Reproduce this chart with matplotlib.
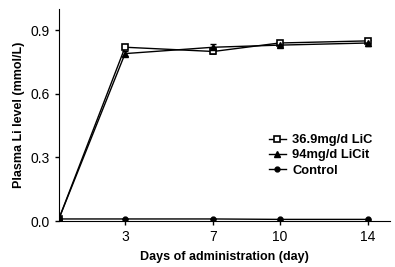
import numpy as np
import matplotlib.pyplot as plt
from matplotlib.lines import Line2D

plt.rcParams['font.family'] = ['Liberation Sans', 'DejaVu Sans']

days = [0, 3, 7, 10, 14]
lic = [0.01, 0.82, 0.80, 0.84, 0.85]
lic_err = [0.003, 0.01, 0.012, 0.008, 0.01]
licit = [0.01, 0.79, 0.82, 0.83, 0.84]
licit_err = [0.003, 0.01, 0.015, 0.01, 0.012]
control = [0.01, 0.01, 0.01, 0.008, 0.008]
control_err = [0.002, 0.002, 0.002, 0.002, 0.002]
labels = ['36.9mg/d LiC', '94mg/d LiCit', 'Control']

fig = plt.figure(figsize=(3.95, 2.67), dpi=100)
ax = fig.add_axes([0.149, 0.172, 0.838, 0.794])

sq = dict(marker='s', markersize=4.5, markerfacecolor='white', markeredgewidth=1.2)
tri = dict(marker='^', markersize=4.5)
dot = dict(marker='o', markersize=3.5)

ax.errorbar(days, lic, yerr=lic_err, color='black', linewidth=1.0,
            capsize=2, elinewidth=0.8, **sq)
ax.errorbar(days, licit, yerr=licit_err, color='black', linewidth=1.0,
            capsize=2, elinewidth=0.8, **tri)
ax.errorbar(days, control, yerr=control_err, color='black', linewidth=1.0,
            capsize=2, elinewidth=0.8, **dot)

ax.set_xlim(0, 15)
ax.set_ylim(0, 1.0)
ax.set_xticks([3, 7, 10, 14])
ax.set_yticks([0.0, 0.3, 0.6, 0.9])
ax.set_yticklabels(['0.0', '0.3', '0.6', '0.9'])
ax.spines['top'].set_visible(False)
ax.spines['right'].set_visible(False)
ax.tick_params(labelsize=10, length=3, width=1.0)

ax.set_xlabel('Days of administration (day)', fontsize=9, fontweight='bold', labelpad=5)
ax.set_ylabel('Plasma Li level (mmol/L)', fontsize=9, fontweight='bold', labelpad=4)

handles = [Line2D([], [], color='black', linewidth=1.0, **sq),
           Line2D([], [], color='black', linewidth=1.0, **tri),
           Line2D([], [], color='black', linewidth=1.0, **dot)]
ax.legend(handles, labels, loc='center left', bbox_to_anchor=(0.6, 0.31), frameon=False,
          prop={'size': 9.3, 'weight': 'bold'}, handlelength=1.3,
          handletextpad=0.5, labelspacing=0.25)

fig.savefig('out.png', dpi=100)
